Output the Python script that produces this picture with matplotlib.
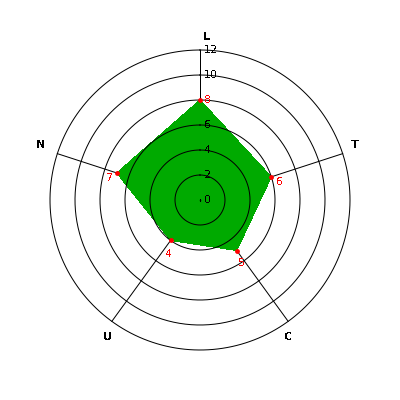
import numpy as np
import matplotlib
matplotlib.use("Agg")
import matplotlib.pyplot as plt

# data
categorias = ["L", "T", "C", "U", "N"]
valores = [8, 6, 5, 4, 7]
anillos = [2, 4, 6, 8, 10, 12]
marcas = [0, 2, 4, 6, 8, 10, 12]

# desplazamientos de etiquetas (pixeles)
off_valor = [(8, 0), (8, -5), (5, -12), (-2, -14), (-7, -5)]
off_cat = [(7, 0), (0, 5), (-7, -5), (3, -5), (-4, 5)]

plt.rcParams["text.antialiased"] = False

fig = plt.figure(figsize=(4, 4), dpi=100)
ax = fig.add_axes([0.125, 0.125, 0.75, 0.75], projection="polar")
ax.set_theta_zero_location("N")
ax.set_theta_direction(-1)
ax.set_ylim(0, 12)
ax.grid(False)
ax.set_xticks([])
ax.set_yticks([])
ax.spines["polar"].set_visible(False)
ax.patch.set_visible(False)

n = len(categorias)
ang = np.arange(n) * 2 * np.pi / n
lw = 0.72  # ~1 pixel

# ejes radiales
for a in ang:
    ax.plot([a, a], [0, 12], color="black", lw=lw, zorder=1, clip_on=False)

# area
ang_c = np.append(ang, ang[0])
val_c = valores + [valores[0]]
ax.fill(ang_c, val_c, color="#00aa00", zorder=2, antialiased=False, lw=0)

# circulos
t = np.linspace(0, 2 * np.pi, 400)
for r in anillos:
    ax.plot(t, np.full_like(t, r), color="black", lw=lw, zorder=3, clip_on=False)

# puntos
ax.plot(ang, valores, "o", color="red", ms=3.5, mew=0, zorder=4)
ax.plot([0], [0], "s", color="black", ms=1, mew=0, zorder=4)

# etiquetas radiales
for m in marcas:
    ax.annotate(str(m), xy=(0, m), xytext=(4, 0), textcoords="offset pixels",
                ha="left", va="center", fontsize=8, zorder=5)

# etiquetas de valores
for a, v, o in zip(ang, valores, off_valor):
    ax.annotate(str(v), xy=(a, v), xytext=o, textcoords="offset pixels",
                ha="center", va="center", fontsize=8, color="red", zorder=5)

# etiquetas de categorias
for a, c, o in zip(ang, categorias, off_cat):
    ax.annotate(c, xy=(a, 13.05), xytext=o, textcoords="offset pixels",
                ha="center", va="center", fontsize=8, fontweight="bold",
                annotation_clip=False)

fig.savefig("out.png", dpi=100, facecolor="white")
